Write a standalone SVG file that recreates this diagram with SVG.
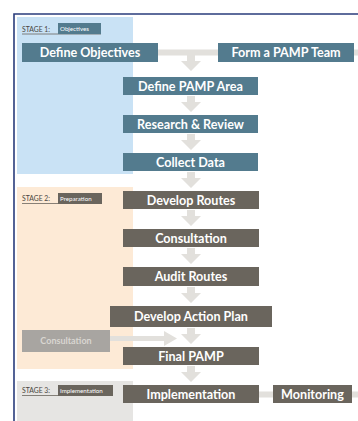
<svg xmlns="http://www.w3.org/2000/svg" width="358" height="421" viewBox="0 0 358 421">
<style>
.blue{fill:#537b8e}
.grey{fill:#6a655d}
.t{font-family:Lato,"Open Sans",sans-serif;font-weight:bold;font-size:12.6px;fill:#ffffff;text-anchor:middle}
.st{font-family:Lato,"Open Sans",sans-serif;font-size:6.8px;fill:#4a4640}
.lb{font-family:Lato,"Open Sans",sans-serif;font-size:6.2px;fill:#ffffff}
.conn{fill:#e2e0dc}
</style>
<defs>
<path id="down" d="M-4,0 H4 V6 H10 L0,16 L-10,6 H-4 Z"/>
</defs>
<rect width="358" height="421" fill="#ffffff"/>
<g id="stages">
<rect x="17" y="17" width="116" height="157" fill="#c9e2f5"/>
<rect x="17" y="187" width="116" height="182" fill="#fdead6"/>
<rect x="17" y="381" width="116" height="40" fill="#e6e5e3"/>
</g>
<g id="frame" stroke="#2a3c7c" stroke-width="1.6" fill="none">
<path d="M14,421 V14 H358"/>
</g>
<g id="connectors">
<rect class="conn" x="158" y="49.5" width="60" height="6"/>
<rect class="conn" x="354" y="49.5" width="4" height="6"/>
<use href="#down" class="conn" x="191" y="55"/>
<use href="#down" class="conn" x="191" y="96"/>
<use href="#down" class="conn" x="191" y="134"/>
<use href="#down" class="conn" x="191" y="172"/>
<use href="#down" class="conn" x="191" y="210"/>
<use href="#down" class="conn" x="191" y="248"/>
<use href="#down" class="conn" x="191" y="287"/>
<use href="#down" class="conn" x="191" y="328"/>
<use href="#down" class="conn" x="191" y="366"/>
<path class="conn" d="M110,336 H164 V331 L177,338.5 L164,346 V341 H110 Z"/>
<rect class="conn" x="259" y="391.5" width="14" height="6"/>
<rect class="conn" x="352" y="391.5" width="6" height="6"/>
</g>
<g id="stage1-label">
<text class="st" x="22" y="32">STAGE 1:</text>
<line x1="22" y1="34" x2="101" y2="34" stroke="#6a655d" stroke-width="0.8"/>
<rect class="blue" x="58" y="23" width="43" height="11"/>
<text class="lb" x="60" y="31">Objectives</text>
</g>
<g id="stage2-label">
<text class="st" x="22" y="201">STAGE 2:</text>
<line x1="22" y1="203.5" x2="102" y2="203.5" stroke="#6a655d" stroke-width="0.8"/>
<rect class="grey" x="58" y="193" width="44" height="11"/>
<text class="lb" x="60" y="201">Preparation</text>
</g>
<g id="stage3-label">
<text class="st" x="22" y="393">STAGE 3:</text>
<line x1="22" y1="395.5" x2="113" y2="395.5" stroke="#6a655d" stroke-width="0.8"/>
<rect class="grey" x="58" y="385" width="55" height="11"/>
<text class="lb" x="60" y="393">Implementation</text>
</g>
<g id="define-objectives"><rect class="blue" x="22" y="43" width="136" height="19"/><text class="t" x="90" y="57">Define Objectives</text></g>
<g id="form-team"><rect class="blue" x="218" y="43" width="136" height="19"/><text class="t" x="286" y="57">Form a PAMP Team</text></g>
<g id="define-area"><rect class="blue" x="123" y="77" width="135" height="18"/><text class="t" x="190.5" y="90.5">Define PAMP Area</text></g>
<g id="research"><rect class="blue" x="123" y="115" width="135" height="18"/><text class="t" x="190.5" y="128.5">Research &amp; Review</text></g>
<g id="collect"><rect class="blue" x="123" y="153" width="135" height="18"/><text class="t" x="190.5" y="166.5">Collect Data</text></g>
<g id="develop-routes"><rect class="grey" x="123" y="191" width="136" height="18"/><text class="t" x="191" y="204.5">Develop Routes</text></g>
<g id="consultation"><rect class="grey" x="123" y="229" width="136" height="18"/><text class="t" x="191" y="242.5">Consultation</text></g>
<g id="audit"><rect class="grey" x="123" y="267" width="136" height="19"/><text class="t" x="191" y="281">Audit Routes</text></g>
<g id="action-plan"><rect class="grey" x="110" y="306" width="162" height="21"/><text class="t" x="191" y="321">Develop Action Plan</text></g>
<g id="side-consultation"><rect x="22" y="330" width="88" height="22" fill="#a8a5a1"/><text class="t" x="66" y="344" style="font-size:9px;fill:#d9d6d1">Consultation</text></g>
<g id="final"><rect class="grey" x="123" y="347" width="136" height="18"/><text class="t" x="191" y="360.5">Final PAMP</text></g>
<g id="implementation"><rect class="grey" x="123" y="385" width="136" height="18"/><text class="t" x="191" y="398.5">Implementation</text></g>
<g id="monitoring"><rect class="grey" x="273" y="385" width="79" height="18"/><text class="t" x="312.5" y="398.5">Monitoring</text></g>
</svg>
